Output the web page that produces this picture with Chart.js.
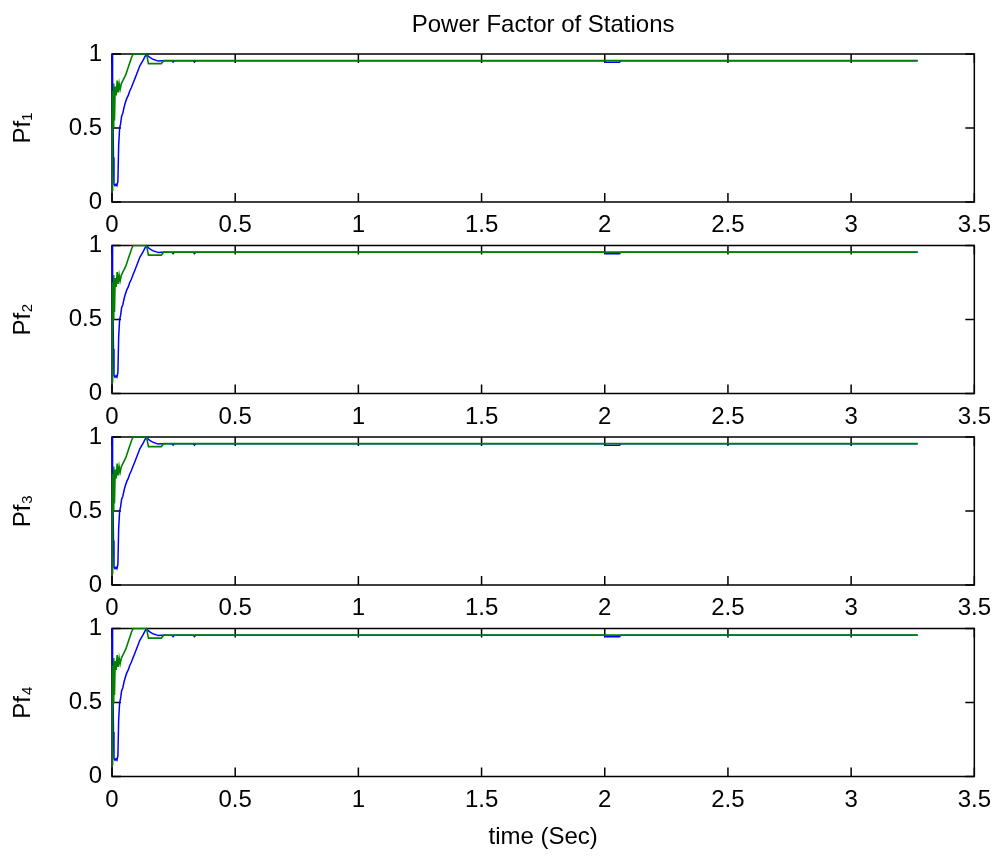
<!DOCTYPE html>
<html>
<head>
<meta charset="utf-8">
<title>Power Factor of Stations</title>
<script src="https://cdn.jsdelivr.net/npm/chart.js@4/dist/chart.umd.min.js"></script>
<style>
  html, body { margin: 0; padding: 0; background: #fff; }
  #wrap { position: relative; width: 1000px; height: 856px; }
  #wrap canvas { position: absolute; left: 0; top: 0; }
</style>
</head>
<body>
<div id="wrap">
  <canvas id="pf1" width="1000" height="856"></canvas>
  <canvas id="pf2" width="1000" height="856"></canvas>
  <canvas id="pf3" width="1000" height="856"></canvas>
  <canvas id="pf4" width="1000" height="856"></canvas>
</div>
<script>
// axis labels of the four subplots
var stationLabels = ['Pf\u2081', 'Pf\u2082', 'Pf\u2083', 'Pf\u2084'];
var xTickValues = [0, 0.5, 1, 1.5, 2, 2.5, 3, 3.5];
var yTickValues = [0, 0.5, 1];

// blue trace (time in sec, power factor)
var blueTime = [0, 0.001, 0.002, 0.004, 0.006, 0.008, 0.012, 0.016, 0.02, 0.024, 0.027, 0.031,
  0.035, 0.039, 0.044, 0.049, 0.054, 0.06, 0.066, 0.072, 0.078, 0.085, 0.092, 0.099, 0.106,
  0.113, 0.12, 0.127, 0.133, 0.14, 0.147, 0.155, 0.165, 0.175, 0.187, 0.2, 0.243, 0.248, 0.253,
  0.33, 0.335, 0.34, 2.0, 2.005, 2.06, 2.065, 3.27];
var bluePf = [1.0, 1.0, 0.5, 0.8, 0.3, 0.12, 0.11, 0.12, 0.11, 0.14, 0.38, 0.5,
  0.53, 0.58, 0.6, 0.64, 0.67, 0.7, 0.72, 0.75, 0.77, 0.8, 0.83, 0.86, 0.89,
  0.92, 0.94, 0.96, 0.98, 1.0, 0.985, 0.975, 0.965, 0.96, 0.952, 0.955, 0.955, 0.945, 0.955,
  0.955, 0.945, 0.955, 0.955, 0.945, 0.945, 0.955, 0.955];

// green trace (time in sec, power factor)
var greenTime = [0, 0.002, 0.003, 0.005, 0.007, 0.01, 0.013, 0.017, 0.021, 0.025, 0.029, 0.033,
  0.038, 0.044, 0.05, 0.056, 0.062, 0.068, 0.074, 0.08, 0.086, 0.14, 0.148, 0.2, 0.21, 3.27];
var greenPf = [0.08, 0.25, 0.75, 0.5, 0.8, 0.55, 0.78, 0.72, 0.82, 0.74, 0.8, 0.76,
  0.8, 0.82, 0.84, 0.86, 0.89, 0.92, 0.95, 0.98, 1.0, 1.0, 0.935, 0.935, 0.955, 0.955];

var plotTops = [54, 245.5, 437, 628.5];
var plotHeight = 148;
var tickLen = 9;
var fontFamily = '"Liberation Sans", Arial, sans-serif';
var fontSize = 24;

function toPoints(xs, ys) {
  return xs.map(function (t, i) { return { x: t, y: ys[i] }; });
}

// matlab style box with inward ticks on all sides
var boxPlugin = {
  id: 'matlabBox',
  beforeDatasetsDraw: function (chart) {
    var ctx = chart.ctx, a = chart.chartArea;
    var xs = chart.scales.x, ys = chart.scales.y;
    ctx.save();
    ctx.strokeStyle = '#000';
    ctx.lineWidth = 1.5;
    ctx.strokeRect(a.left, a.top, a.right - a.left, a.bottom - a.top);
    ctx.beginPath();
    xTickValues.forEach(function (v) {
      var px = xs.getPixelForValue(v);
      ctx.moveTo(px, a.bottom); ctx.lineTo(px, a.bottom - tickLen);
      ctx.moveTo(px, a.top); ctx.lineTo(px, a.top + tickLen);
    });
    yTickValues.forEach(function (v) {
      var py = ys.getPixelForValue(v);
      ctx.moveTo(a.left, py); ctx.lineTo(a.left + tickLen, py);
      ctx.moveTo(a.right, py); ctx.lineTo(a.right - tickLen, py);
    });
    ctx.stroke();
    ctx.restore();
  }
};

function fixedTicks(values) {
  return function (s) { s.ticks = values.map(function (v) { return { value: v }; }); };
}

function plainLabel(v) { return String(v); }

stationLabels.forEach(function (label, i) {
  var first = i === 0, last = i === stationLabels.length - 1;
  var bottom = plotTops[i] + plotHeight;
  var scales = {
    x: {
      type: 'linear',
      min: 0,
      max: 3.5,
      afterBuildTicks: fixedTicks(xTickValues),
      afterFit: function (s) { s.height = 856 - bottom; },
      grid: { display: false, drawTicks: false },
      border: { display: false },
      ticks: { color: '#000', padding: 9, maxRotation: 0, callback: plainLabel,
        font: { family: fontFamily, size: fontSize } },
      title: {
        display: last,
        text: 'time (Sec)',
        color: '#000',
        font: { family: fontFamily, size: fontSize },
        padding: { top: 0, bottom: 4 }
      }
    },
    y: {
      min: 0,
      max: 1,
      afterBuildTicks: fixedTicks(yTickValues),
      afterFit: function (s) { s.width = 112; },
      grid: { display: false, drawTicks: false },
      border: { display: false },
      ticks: { color: '#000', padding: 10, callback: plainLabel,
        font: { family: fontFamily, size: fontSize } },
      title: {
        display: true,
        text: label,
        color: '#000',
        font: { family: fontFamily, size: fontSize },
        padding: { top: 9, bottom: 0 }
      }
    }
  };
  if (first) {
    // empty top axis only to carry the figure title centred over the plot
    scales.top = {
      type: 'linear',
      position: 'top',
      min: 0,
      max: 3.5,
      afterFit: function (s) { s.height = plotTops[0]; },
      grid: { display: false, drawTicks: false },
      border: { display: false },
      ticks: { display: false },
      title: {
        display: true,
        text: 'Power Factor of Stations',
        color: '#000',
        font: { family: fontFamily, size: fontSize },
        padding: { top: 11, bottom: 0 }
      }
    };
  }
  new Chart(document.getElementById('pf' + (i + 1)), {
    type: 'line',
    data: {
      datasets: [{
        label: 'blue',
        data: toPoints(blueTime, bluePf),
        borderColor: '#0000ff',
        borderWidth: 1.5,
        pointRadius: 0,
        tension: 0,
        clip: 1,
        order: 2
      }, {
        label: 'green',
        data: toPoints(greenTime, greenPf),
        borderColor: '#008000',
        borderWidth: 1.6,
        pointRadius: 0,
        tension: 0,
        clip: 1,
        order: 1
      }]
    },
    options: {
      responsive: false,
      animation: false,
      devicePixelRatio: 1,
      layout: {
        padding: { left: 0, right: 22, top: first ? 0 : plotTops[i], bottom: 0 }
      },
      plugins: {
        legend: { display: false },
        tooltip: { enabled: false }
      },
      scales: scales
    },
    plugins: [boxPlugin]
  });
});
</script>
</body>
</html>
